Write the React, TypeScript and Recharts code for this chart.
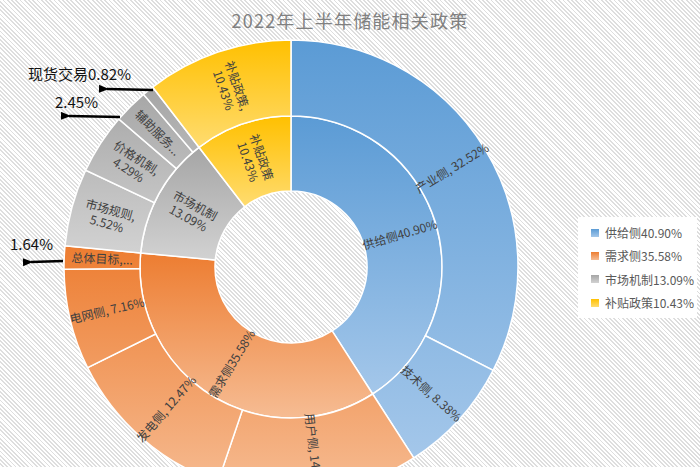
import { PieChart, Pie, Cell, Legend } from 'recharts';

const innerNames = ['供给侧', '需求侧', '市场机制', '补贴政策'];
const innerValues = [40.9, 35.58, 13.09, 10.43];
const innerLabels = [['供给侧40.90%'], ['需求侧35.58%'], ['市场机制', '13.09%'], ['补贴政策', '10.43%']];
const legendLabels = ['供给侧40.90%', '需求侧35.58%', '市场机制13.09%', '补贴政策10.43%'];

const outerNames = ['产业侧', '技术侧', '用户侧', '发电侧', '电网侧', '总体目标', '市场规则', '价格机制', '辅助服务', '现货交易', '补贴政策'];
const outerValues = [32.52, 8.38, 14.31, 12.47, 7.16, 1.64, 5.52, 4.29, 2.45, 0.82, 10.43];
const outerGroup = [0, 0, 1, 1, 1, 1, 2, 2, 2, 2, 3];
const outerLabels = [
  ['产业侧, 32.52%'],
  ['技术侧, 8.38%'],
  ['用户侧, 14.31%'],
  ['发电侧, 12.47%'],
  ['电网侧, 7.16%'],
  ['总体目标,...'],
  ['市场规则,', '5.52%'],
  ['价格机制,', '4.29%'],
  ['辅助服务...'],
  [],
  ['补贴政策,', '10.43%'],
];

const calloutLabels = ['现货交易0.82%', '2.45%', '1.64%'];

const baseColors = ['#5b9bd5', '#ed7d31', '#a5a5a5', '#ffc000'];
const lightColors = ['#a4c7ea', '#f6bc93', '#d2d2d2', '#ffdc70'];

const W = 700;
const H = 467;
const CX = 291;
const CY = 267;
const R0 = 76;
const R1 = 151;
const R2 = 227;
const FONT = '"Noto Sans CJK SC", "Microsoft YaHei", sans-serif';

const innerData = innerNames.map((name, i) => ({ name, value: innerValues[i] }));
const outerData = outerNames.map((name, i) => ({ name, value: outerValues[i] }));

// vertical extent of a family's arc in one ring, used for the gradient
function ySpan(startPct: number, endPct: number, rIn: number, rOut: number) {
  let min = Infinity;
  let max = -Infinity;
  for (let k = 0; k <= 120; k++) {
    const t = ((startPct + ((endPct - startPct) * k) / 120) / 100) * Math.PI * 2;
    for (const r of [rIn, rOut]) {
      const y = CY - r * Math.cos(t);
      min = Math.min(min, y);
      max = Math.max(max, y);
    }
  }
  return [min, max];
}

const familyStarts = innerValues.map((_, i) => innerValues.slice(0, i).reduce((a, b) => a + b, 0));

const makeLabel = (lines: string[][]) => (props: any) => {
  const { cx, cy, midAngle, innerRadius, outerRadius, index } = props;
  const ls = lines[index];
  if (!ls || !ls.length) return null;
  const r = (innerRadius + outerRadius) / 2;
  const rad = (-midAngle * Math.PI) / 180;
  const x = cx + r * Math.cos(rad);
  const y = cy + r * Math.sin(rad);
  let rot = -midAngle;
  while (rot <= -180) rot += 360;
  while (rot > 180) rot -= 360;
  if (rot > 90) rot -= 180;
  else if (rot < -90) rot += 180;
  return (
    <text
      x={x}
      y={y}
      transform={`rotate(${rot} ${x} ${y})`}
      textAnchor="middle"
      fontSize={12}
      fill="#404040"
      fontFamily={FONT}
    >
      {ls.map((l, i) => (
        <tspan key={i} x={x} dy={i === 0 ? `${0.35 - (ls.length - 1) * 0.6}em` : '1.2em'}>
          {l}
        </tspan>
      ))}
    </text>
  );
};

function LegendBox() {
  return (
    <div
      style={{
        background: '#ffffff',
        width: 119,
        height: 101,
        padding: '4px 0 0 13px',
        boxSizing: 'border-box',
        fontFamily: FONT,
      }}
    >
      {legendLabels.map((l, i) => (
        <div key={l} style={{ display: 'flex', alignItems: 'center', height: 23.3 }}>
          <span
            style={{
              width: 8,
              height: 8,
              background: `linear-gradient(${baseColors[i]}, ${lightColors[i]})`,
            }}
          />
          <span style={{ marginLeft: 6, fontSize: 12, color: '#595959', whiteSpace: 'nowrap' }}>{l}</span>
        </div>
      ))}
    </div>
  );
}

export default function App() {
  return (
    <div
      style={{
        position: 'relative',
        width: W,
        height: H,
        overflow: 'hidden',
        background: 'repeating-linear-gradient(45deg, #ffffff 0px, #ffffff 1.7px, #dedede 1.7px, #dedede 3px)',
      }}
    >
      <style>{'body{margin:0}'}</style>
      <svg width={0} height={0} style={{ position: 'absolute' }}>
        <defs>
          {innerValues.map((v, i) => {
            const [ia, ib] = ySpan(familyStarts[i], familyStarts[i] + v, R0, R1);
            const [oa, ob] = ySpan(familyStarts[i], familyStarts[i] + v, R1, R2);
            return [
              <linearGradient key={`in${i}`} id={`gin${i}`} gradientUnits="userSpaceOnUse" x1={0} y1={ia} x2={0} y2={ib}>
                <stop offset="0" stopColor={baseColors[i]} />
                <stop offset="1" stopColor={lightColors[i]} />
              </linearGradient>,
              <linearGradient key={`out${i}`} id={`gout${i}`} gradientUnits="userSpaceOnUse" x1={0} y1={oa} x2={0} y2={ob}>
                <stop offset="0" stopColor={baseColors[i]} />
                <stop offset="1" stopColor={lightColors[i]} />
              </linearGradient>,
            ];
          })}
        </defs>
      </svg>
      <PieChart width={W} height={H} margin={{ top: 0, right: 0, bottom: 0, left: 0 }}>
        <Pie
          data={innerData}
          dataKey="value"
          nameKey="name"
          cx={CX}
          cy={CY}
          innerRadius={R0}
          outerRadius={R1}
          startAngle={90}
          endAngle={-270}
          stroke="#ffffff"
          strokeWidth={1.5}
          label={makeLabel(innerLabels)}
          labelLine={false}
          isAnimationActive={false}
        >
          {innerData.map((d, i) => (
            <Cell key={d.name} fill={`url(#gin${i})`} />
          ))}
        </Pie>
        <Pie
          data={outerData}
          dataKey="value"
          nameKey="name"
          cx={CX}
          cy={CY}
          innerRadius={R1}
          outerRadius={R2}
          startAngle={90}
          endAngle={-270}
          stroke="#ffffff"
          strokeWidth={1.5}
          label={makeLabel(outerLabels)}
          labelLine={false}
          isAnimationActive={false}
        >
          {outerData.map((d, i) => (
            <Cell key={d.name + i} fill={`url(#gout${outerGroup[i]})`} />
          ))}
        </Pie>
        <Legend content={() => <LegendBox />} wrapperStyle={{ left: 578, top: 217, width: 119, bottom: 'auto' }} />
      </PieChart>
      <svg width={W} height={H} style={{ position: 'absolute', left: 0, top: 0, pointerEvents: 'none' }}>
        <defs>
          <marker id="arrow" viewBox="0 0 10 8" refX="2" refY="4" markerWidth="4.4" markerHeight="3.2" orient="auto">
            <path d="M10 0 L0 4 L10 8 Z" fill="#000" />
          </marker>
        </defs>
        <text x={350} y={20} textAnchor="middle" dominantBaseline="central" fontSize={18} letterSpacing={1.2} fill="#808080" fontFamily={FONT}>
          2022年上半年储能相关政策
        </text>
        <text x={28} y={73} dominantBaseline="central" fontSize={15} fill="#111" fontFamily={FONT}>
          {calloutLabels[0]}
        </text>
        <text x={55} y={101} dominantBaseline="central" fontSize={15} fill="#111" fontFamily={FONT}>
          {calloutLabels[1]}
        </text>
        <text x={10} y={243} dominantBaseline="central" fontSize={15} fill="#111" fontFamily={FONT}>
          {calloutLabels[2]}
        </text>
        <line x1={153} y1={90} x2={107} y2={89} stroke="#000" strokeWidth={2.5} markerEnd="url(#arrow)" />
        <line x1={120} y1={117} x2={69} y2={116} stroke="#000" strokeWidth={2.5} markerEnd="url(#arrow)" />
        <line x1={63} y1={261} x2={31} y2={262} stroke="#000" strokeWidth={2.5} markerEnd="url(#arrow)" />
      </svg>
    </div>
  );
}
